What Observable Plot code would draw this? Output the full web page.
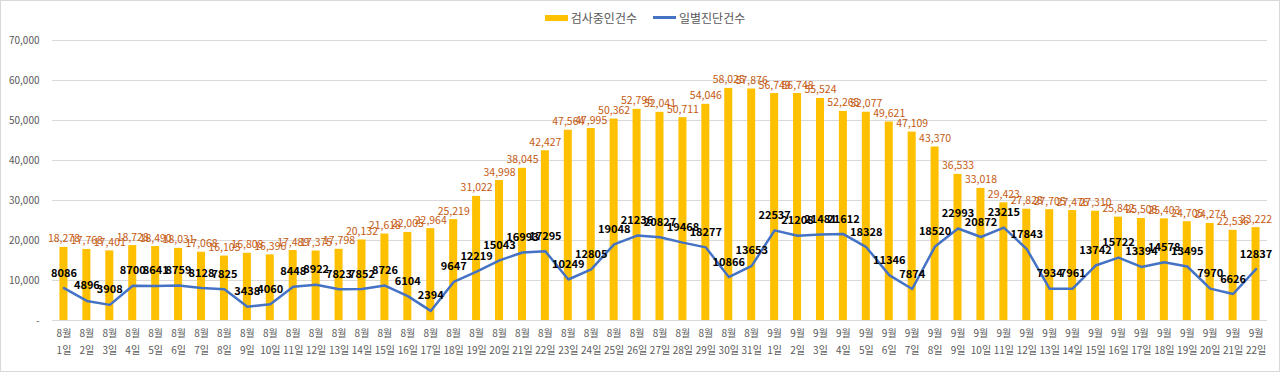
<!DOCTYPE html>
<html>
<head>
<meta charset="utf-8">
<script src="https://cdn.jsdelivr.net/npm/d3@7"></script>
<script src="https://cdn.jsdelivr.net/npm/@observablehq/plot@0.6"></script>
<style>
  html, body { margin: 0; padding: 0; background: #fff; }
  #wrap { width: 1280px; height: 372px; box-sizing: border-box; border: 1px solid #d9d9d9; overflow: hidden; font-family: "Noto Sans CJK KR", "Noto Sans", sans-serif; }
  #legend { height: 26px; padding-top: 7px; display: flex; justify-content: center; align-items: center; gap: 16px; font-size: 12px; color: #595959; padding-left: 10px; box-sizing: border-box; }
  .item { display: flex; align-items: center; gap: 3px; }
  .sw { display: inline-block; width: 23px; }
  #chart svg { overflow: visible; display: block; }
</style>
</head>
<body>
<div id="wrap">
  <div id="legend">
    <span class="item"><span class="sw" style="height:6px;background:#FFC000"></span>검사중인건수</span>
    <span class="item"><span class="sw" style="height:3px;background:#4472C4"></span>일별진단건수</span>
  </div>
  <div id="chart"></div>
</div>
<script>
const months = [8,8,8,8,8,8,8,8,8,8,8,8,8,8,8,8,8,8,8,8,8,8,8,8,8,8,8,8,8,8,8,
                9,9,9,9,9,9,9,9,9,9,9,9,9,9,9,9,9,9,9,9,9,9];
const days = [1,2,3,4,5,6,7,8,9,10,11,12,13,14,15,16,17,18,19,20,21,22,23,24,25,26,27,28,29,30,31,
              1,2,3,4,5,6,7,8,9,10,11,12,13,14,15,16,17,18,19,20,21,22];
const testing = [18278,17768,17401,18728,18490,18031,17068,16105,16808,16396,17489,17375,17798,20132,21618,22005,22964,25219,31022,34998,38045,42427,47564,47995,50362,52796,52041,50711,54046,58025,57876,
                 56749,56748,55524,52265,52077,49621,47109,43370,36533,33018,29423,27828,27705,27476,27310,25842,25508,25403,24705,24274,22536,23222];
const daily = [8086,4896,3908,8700,8641,8759,8128,7825,3438,4060,8448,8922,7823,7852,8726,6104,2394,9647,12219,15043,16993,17295,10249,12805,19048,21236,20827,19468,18277,10866,13653,
               22537,21208,21481,21612,18328,11346,7874,18520,22993,20872,23215,17843,7934,7961,13742,15722,13394,14578,13495,7970,6626,12837];
const yTicks = [0,10000,20000,30000,40000,50000,60000,70000];

const rows = months.map((m, i) => ({
  key: `${m}/${days[i]}`, month: `${m}월`, day: `${days[i]}일`, testing: testing[i], daily: daily[i]
}));
const keys = rows.map(d => d.key);
const fmt = d3.format(",");

const chart = Plot.plot({
  width: 1278,
  height: 344,
  marginTop: 13,
  marginBottom: 51,
  marginLeft: 51,
  marginRight: 12,
  style: { fontFamily: '"Noto Sans CJK KR", "Noto Sans", sans-serif', fontSize: "10px", color: "#595959", background: "transparent" },
  x: { type: "band", domain: keys, paddingInner: 0.65, paddingOuter: 0.325, axis: null },
  y: { domain: [0, 70000], ticks: yTicks, tickSize: 0, tickPadding: 13, label: null,
       tickFormat: d => d === 0 ? "-" : fmt(d) },
  marks: [
    Plot.ruleY(yTicks, { stroke: "#d9d9d9", strokeWidth: 1 }),
    Plot.barY(rows, { x: "key", y: "testing", fill: "#FFC000" }),
    Plot.line(rows, { x: "key", y: "daily", stroke: "#4472C4", strokeWidth: 2.5, curve: "linear" }),
    Plot.text(rows, { x: "key", y: "testing", text: d => fmt(d.testing), fill: "#C55A11", lineAnchor: "bottom", dy: -5, fontSize: 10.5 }),
    Plot.text(rows, { x: "key", y: "daily", text: d => String(d.daily), fill: "#000", dy: -15, fontSize: 11, fontWeight: "bold" }),
    Plot.text(rows, { x: "key", frameAnchor: "bottom", text: "month", dy: 16, fill: "#595959", fontSize: 10 }),
    Plot.text(rows, { x: "key", frameAnchor: "bottom", text: "day", dy: 33, fill: "#595959", fontSize: 10 })
  ]
});
document.getElementById("chart").appendChild(chart);
</script>
</body>
</html>
